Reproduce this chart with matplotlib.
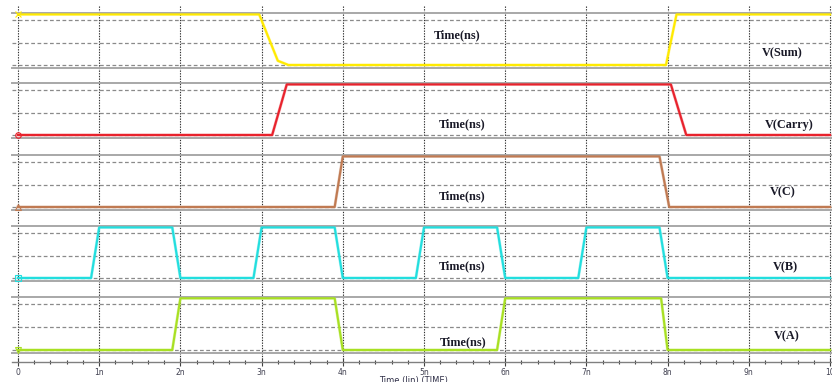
import matplotlib
matplotlib.use("Agg")
import matplotlib.pyplot as plt
import numpy as np

# breakpoints of each waveform (time in ns, level in V)
sum_t = [0, 2.97, 3.2, 3.33, 7.98, 8.11, 10]
sum_v = [1.8, 1.8, 0.15, 0, 0, 1.8, 1.8]

carry_t = [0, 3.13, 3.31, 8.04, 8.23, 10]
carry_v = [0, 0, 1.8, 1.8, 0, 0]

c_t = [0, 3.9, 4.0, 7.9, 8.02, 10]
c_v = [0, 0, 1.8, 1.8, 0, 0]

b_t = [0, 0.9, 1.0, 1.9, 2.0, 2.9, 3.0, 3.9, 4.0, 4.9, 5.0, 5.9, 6.0, 6.9, 7.0, 7.9, 8.0, 10]
b_v = [0, 0, 1.8, 1.8, 0, 0, 1.8, 1.8, 0, 0, 1.8, 1.8, 0, 0, 1.8, 1.8, 0, 0]

a_t = [0, 1.9, 2.0, 3.9, 4.0, 5.9, 6.0, 7.92, 8.0, 10]
a_v = [0, 0, 1.8, 1.8, 0, 0, 1.8, 1.8, 0, 0]

names = ["V(Sum)", "V(Carry)", "V(C)", "V(B)", "V(A)"]
colors = ["#FFEA00", "#E8222C", "#C07A52", "#22DEDE", "#A8E022"]
markers = ["x", "o", "^", "s", "v"]
tick_labels = ["0", "1n", "2n", "3n", "4n", "5n", "6n", "7n", "8n", "9n", "10"]

W, H = 832, 382
fig = plt.figure(figsize=(W / 100, H / 100), dpi=100)

def px_axes(left, top, right, bottom):
    return fig.add_axes([left / W, 1 - bottom / H, (right - left) / W, (bottom - top) / H])

xl = (-6 / 81.2, 10 + 2 / 81.2)

# background axes: vertical grid and the time axis
bg = px_axes(12, 6, 832, 362)
bg.set_xlim(xl)
bg.set_ylim(0, 1)
for s in ["top", "left", "right"]:
    bg.spines[s].set_visible(False)
bg.spines["bottom"].set_color("#808080")
bg.spines["bottom"].set_linewidth(1.0)
bg.set_yticks([])
bg.set_xticks(range(11))
bg.set_xticklabels(tick_labels, fontsize=5.5, color="#404050")
bg.set_xticks(np.arange(0, 10.01, 0.2), minor=True)
bg.tick_params(axis="x", which="major", direction="inout", length=6, width=0.8, color="#404040", pad=1.5)
bg.tick_params(axis="x", which="minor", direction="inout", length=3, width=0.8, color="#404040")
for t in range(11):
    bg.axvline(t, color="#303030", lw=0.8, ls=(0, (1.2, 1.2)), zorder=0)
fig.text(413 / W, 1 - 381 / H, "Time (lin) (TIME)", fontsize=6, color="#303048",
         ha="center", va="center")

# strip geometry: top spine, bottom spine (pixels)
strips = [(13, 68), (83, 138), (155, 210), (226, 281), (297, 353)]
time_lbl = [(457, 35), (462, 124), (462, 196), (462, 266), (463, 342)]
name_lbl = [(782, 53), (789, 125), (783, 192), (785, 267), (787, 336)]
series = [(sum_t, sum_v), (carry_t, carry_v), (c_t, c_v), (b_t, b_v), (a_t, a_v)]

for i, (top, bot) in enumerate(strips):
    ax = px_axes(12, top, 832, bot)
    ax.patch.set_alpha(0)
    ax.set_xlim(xl)
    hi_px, lo_px = top + 7, bot - 3
    per = 1.6 / (lo_px - hi_px)
    ax.set_ylim(-(bot - lo_px) * per, 1.6 + (hi_px - top) * per)
    for s in ["left", "right"]:
        ax.spines[s].set_visible(False)
    for s in ["top", "bottom"]:
        ax.spines[s].set_color("#A8A8A8")
        ax.spines[s].set_linewidth(1.4)
    ax.set_xticks([])
    ax.set_yticks([])
    for lv in [0, 0.8, 1.6]:
        ax.axhline(lv, color="#8A8A8A", lw=0.9, ls=(0, (3, 2)), zorder=1)
    t, v = series[i]
    ax.plot(t, v, color=colors[i], lw=2.2, alpha=0.35, zorder=2, clip_on=False)
    ax.plot(t, v, color=colors[i], lw=1.5, zorder=3, clip_on=False)
    ax.plot([0], [v[0]], marker=markers[i], ms=4, mfc="none", mec=colors[i], mew=0.8,
            zorder=4, clip_on=False)

    fig.text(time_lbl[i][0] / W, 1 - time_lbl[i][1] / H, "Time(ns)", fontsize=8.8,
             fontweight="bold", family="Liberation Serif", color="#1A1A28",
             ha="center", va="center")
    fig.text(name_lbl[i][0] / W, 1 - name_lbl[i][1] / H, names[i], fontsize=8.8,
             fontweight="bold", family="Liberation Serif", color="#1A1A28",
             ha="center", va="center")

fig.savefig("out.png", dpi=100)
